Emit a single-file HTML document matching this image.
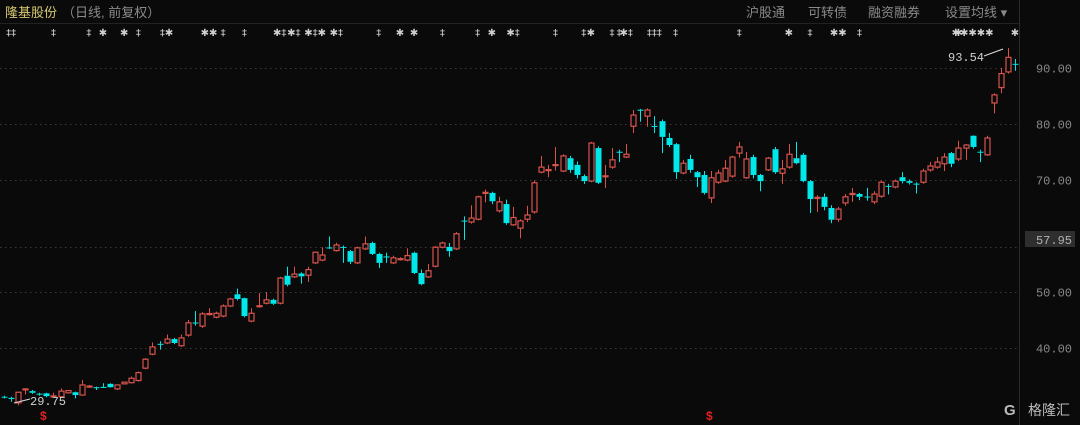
<!DOCTYPE html>
<html><head><meta charset="utf-8"><style>
body{margin:0;background:#0a0a0a;width:1080px;height:425px;overflow:hidden;font-family:"Liberation Sans","Noto Sans CJK SC",sans-serif}
svg{display:block}
</style></head><body>
<svg id="c" width="1080" height="425" viewBox="0 0 1080 425">
<rect x="0" y="0" width="1080" height="425" fill="#0a0a0a"/>
<text x="5" y="17" font-size="13" fill="#d6c870" font-family="Liberation Sans, Noto Sans CJK SC, sans-serif">隆基股份</text>
<text x="62" y="17" font-size="13" fill="#8a8a8a" font-family="Liberation Sans, Noto Sans CJK SC, sans-serif">（日线, 前复权）</text>
<text x="746" y="17" font-size="13" fill="#8a8a8a" font-family="Liberation Sans, Noto Sans CJK SC, sans-serif">沪股通</text>
<text x="808" y="17" font-size="13" fill="#8a8a8a" font-family="Liberation Sans, Noto Sans CJK SC, sans-serif">可转债</text>
<text x="868" y="17" font-size="13" fill="#8a8a8a" font-family="Liberation Sans, Noto Sans CJK SC, sans-serif">融资融券</text>
<text x="945" y="17" font-size="13" fill="#8a8a8a" font-family="Liberation Sans, Noto Sans CJK SC, sans-serif">设置均线 ▾</text>
<line x1="0" y1="23.5" x2="1019" y2="23.5" stroke="#222"/>
<line x1="1019.5" y1="0" x2="1019.5" y2="425" stroke="#2a2a2a"/>
<g id="grid"></g>
<g id="marks"></g>
<g id="candles"></g>
<g id="axis"></g>
<text x="948" y="61" font-size="12" fill="#d0d0d0" font-family="Liberation Mono, monospace">93.54</text>
<line x1="984" y1="56" x2="1003" y2="49" stroke="#ddd"/>
<text x="30" y="405" font-size="12" fill="#d0d0d0" font-family="Liberation Mono, monospace">29.75</text>
<line x1="14" y1="403" x2="30" y2="399" stroke="#ddd"/>
<text x="40" y="420" font-size="12" fill="#e02020" font-weight="bold">$</text>
<text x="706" y="420" font-size="12" fill="#e02020" font-weight="bold">$</text>
<rect x="1025" y="231" width="50" height="16" fill="#2e2e2e"/>
<text x="1072" y="244" font-size="12" fill="#b0b0b0" text-anchor="end" font-family="Liberation Mono, monospace">57.95</text>
<g>
<text x="1004" y="415" font-size="15" fill="#bbb" font-weight="bold">G</text>
<text x="1028" y="415" font-size="14" fill="#bbb" font-family="Liberation Sans, Noto Sans CJK SC, sans-serif">格隆汇</text>
</g>
</svg>
<script>
const opens=[31.3,31.1,30.2,32.6,32.3,31.85,31.9,31.35,31.3,32.0,32.1,31.6,33.1,33.0,33.05,33.6,32.7,33.6,33.8,34.2,36.4,38.9,40.75,40.9,41.6,40.4,42.3,44.55,43.9,46.05,45.5,45.7,47.5,49.6,48.9,44.8,47.45,48.0,48.6,48.0,52.9,52.7,53.3,53.0,55.2,55.7,57.95,57.4,58.05,57.3,55.2,57.7,58.75,56.8,56.35,55.2,55.85,55.7,57.0,53.4,52.7,54.6,58.0,58.05,57.7,62.75,62.5,63.0,67.6,67.7,64.5,65.7,62.0,61.4,63.0,64.3,71.4,71.75,72.65,71.6,73.9,72.7,70.7,69.8,75.7,70.65,72.3,75.05,74.1,79.6,82.55,81.4,79.65,80.5,77.5,76.4,71.25,73.75,71.4,70.9,66.8,69.6,69.8,70.7,74.8,70.4,74.1,70.9,71.8,75.5,71.2,72.3,73.9,74.5,69.8,66.7,67.0,65.0,63.0,65.9,67.4,67.5,67.05,66.1,67.1,68.95,68.75,70.5,69.8,69.35,69.6,71.8,72.3,72.9,74.8,73.75,75.7,77.9,75.05,74.5,83.75,86.5,89.3,90.75];
const closes=[31.2,30.9,32.1,32.7,32.0,31.75,31.4,31.45,32.3,32.4,31.6,33.4,33.2,32.9,32.95,33.0,33.4,33.9,34.6,35.6,38.0,40.2,40.65,41.6,40.9,41.8,44.5,44.45,46.1,46.15,46.2,47.5,48.75,48.75,45.7,46.2,47.55,48.6,47.9,52.5,51.3,53.2,52.8,54.0,57.1,56.6,57.85,58.4,57.95,55.4,57.9,58.6,56.8,55.2,56.25,56.1,55.95,56.5,53.4,51.4,53.8,58.0,58.75,57.3,60.4,62.65,63.2,67.0,67.8,66.2,66.1,62.3,63.3,62.7,63.75,69.5,72.3,71.85,72.75,74.3,71.8,70.9,69.8,76.6,69.5,70.75,73.6,74.95,74.6,81.6,82.45,82.5,79.55,77.7,76.25,71.4,73.0,71.8,70.5,67.7,70.4,71.25,72.1,74.1,75.9,73.75,70.9,69.8,73.9,71.4,72.0,74.6,73.0,69.8,66.6,66.9,65.2,62.9,64.8,67.0,67.6,67.0,66.95,67.5,69.6,68.85,69.8,69.8,69.5,69.25,71.6,72.5,73.2,74.1,72.9,75.7,76.25,75.9,74.95,77.5,85.2,89.0,91.9,90.65];
const highs=[31.5,31.3,32.2,32.8,32.5,32.0,32.0,32.0,32.8,32.5,32.2,34.3,33.4,33.1,33.7,33.7,33.5,34.0,34.9,35.8,38.2,41.0,41.2,42.4,41.8,42.4,45.0,46.6,46.4,47.1,46.5,47.8,49.0,50.6,49.0,47.1,49.8,50.0,48.8,52.7,54.5,54.5,53.5,54.5,57.2,58.0,59.9,58.8,58.3,57.5,58.1,59.9,59.0,57.0,57.0,56.5,56.2,57.8,57.2,54.0,55.0,58.2,59.0,58.75,60.7,63.5,65.5,67.2,68.3,67.9,67.0,66.5,65.2,63.0,65.4,69.9,74.3,72.7,75.9,74.6,74.3,73.3,71.0,76.8,76.0,72.7,75.7,75.4,76.4,82.5,82.7,82.8,81.4,80.8,78.4,76.6,73.6,74.5,71.6,71.6,71.6,71.8,73.6,74.3,76.8,75.0,74.5,71.1,74.1,75.9,73.6,76.4,76.8,74.8,70.0,67.3,67.6,65.5,65.2,67.5,68.6,67.7,68.6,68.0,69.9,69.3,70.1,71.4,70.1,69.6,72.0,73.2,74.1,74.8,75.0,77.0,76.4,78.0,75.4,77.9,85.5,90.0,93.54,91.6];
const lows=[31.0,30.4,29.75,31.7,31.8,31.5,31.2,31.2,31.2,31.9,31.0,31.5,32.9,32.5,32.9,32.9,32.5,33.5,33.7,34.0,36.2,38.7,39.7,40.7,40.7,40.2,42.0,44.0,43.6,45.8,45.3,45.5,47.3,48.5,45.5,44.6,47.2,47.8,47.7,47.8,51.0,52.5,51.5,51.8,55.0,55.5,57.7,57.2,55.2,55.0,55.0,57.5,56.6,54.3,55.2,55.0,55.6,55.5,53.2,51.2,52.5,54.4,57.8,56.3,57.5,59.3,62.2,62.8,66.0,65.7,64.2,62.0,61.8,59.6,62.5,64.0,71.2,70.5,71.7,71.4,71.3,70.3,69.3,69.6,69.3,68.6,72.0,73.2,73.9,78.4,80.4,79.5,78.4,74.8,75.9,70.2,71.0,71.3,68.75,67.4,65.9,69.3,69.6,70.4,74.0,70.2,70.3,68.0,71.6,71.1,69.3,72.0,72.8,69.6,64.1,64.3,64.6,62.3,62.5,65.4,66.1,66.4,66.3,65.7,66.8,67.4,68.5,69.4,69.2,67.6,69.3,71.5,72.0,71.6,72.3,73.4,73.6,75.6,73.2,74.3,81.9,85.5,89.0,89.5];
const gridLevels=[90,80,70,50,40];
const gridLabels=["90.00","80.00","70.00","50.00","40.00"];
const markerGlyphs=["‡‡","‡","‡","✱","✱","‡","‡✱","✱✱","‡","‡","✱‡","✱‡","✱‡✱","✱‡","‡","✱","✱","‡","‡","✱","✱‡","‡","‡","✱","‡","‡","✱‡","‡‡‡","‡","‡","✱","‡","✱✱","‡","✱","✱✱✱✱✱","✱"];
const markerIdx=[1,7,12,14,17,19,23,29,31,34,39,41,44,47,53,56,58,62,67,69,72,78,82,83,86,87,88,92,95,104,111,114,118,121,135,137,143];

const NS="http://www.w3.org/2000/svg";
const x0=4,x1=1015,n=opens.length,step=(x1-x0)/(n-1);
function xs(i){return x0+i*step;}
function ys(p){return 68+(90-p)*5.6;}
function mk(t,a){const e=document.createElementNS(NS,t);for(const k in a)e.setAttribute(k,a[k]);return e;}
const grid=document.getElementById('grid'),axis=document.getElementById('axis');
gridLevels.forEach((v,i)=>{
  const y=Math.round(ys(v))+0.5;
  const l=mk('line',{x1:0,y1:y,x2:1017,y2:y,stroke:'#3a3a3a','stroke-dasharray':'1.5 3.5'});
  
  
  grid.appendChild(l);
  const t=mk('text',{x:1072,y:y+4,'font-size':12,fill:'#8a8a8a','text-anchor':'end','font-family':'Liberation Mono, monospace'});
  t.textContent=gridLabels[i];
  
  
  axis.appendChild(t);
});
{const y=Math.round(ys(closes[48]))+0.5;
const l=mk('line',{x1:0,y1:y,x2:1017,y2:y,stroke:'#3a3a3a','stroke-dasharray':'1.5 3.5'});


grid.appendChild(l);}
const marks=document.getElementById('marks');
markerIdx.forEach((idx,i)=>{
  const t=mk('text',{x:xs(idx),y:36,'font-size':10,fill:'#cfcfcf','text-anchor':'middle','font-family':'DejaVu Sans, sans-serif'});
  t.textContent=markerGlyphs[i];
  
  
  marks.appendChild(t);
});
const cg=document.getElementById('candles');
for(let i=0;i<n;i++){
  const o=opens[i],c=closes[i],up=c>=o,col=up?'#d9534c':'#00e8ea';
  const x=Math.round(xs(i)),g=mk('g',{});
  
  
  const yt=ys(Math.max(o,c)),yb=ys(Math.min(o,c));
  g.appendChild(mk('line',{x1:x+0.5,y1:ys(highs[i]),x2:x+0.5,y2:yt,stroke:col}));
  g.appendChild(mk('line',{x1:x+0.5,y1:yb,x2:x+0.5,y2:ys(lows[i]),stroke:col}));
  const h=Math.max(yb-yt,1);
  if(up) g.appendChild(mk('rect',{x:x-2,y:yt,width:5,height:h,fill:'none',stroke:col,'stroke-width':1.2}));
  else g.appendChild(mk('rect',{x:x-2.5,y:yt,width:6,height:h,fill:col}));
  cg.appendChild(g);
}
</script>
</body></html>
